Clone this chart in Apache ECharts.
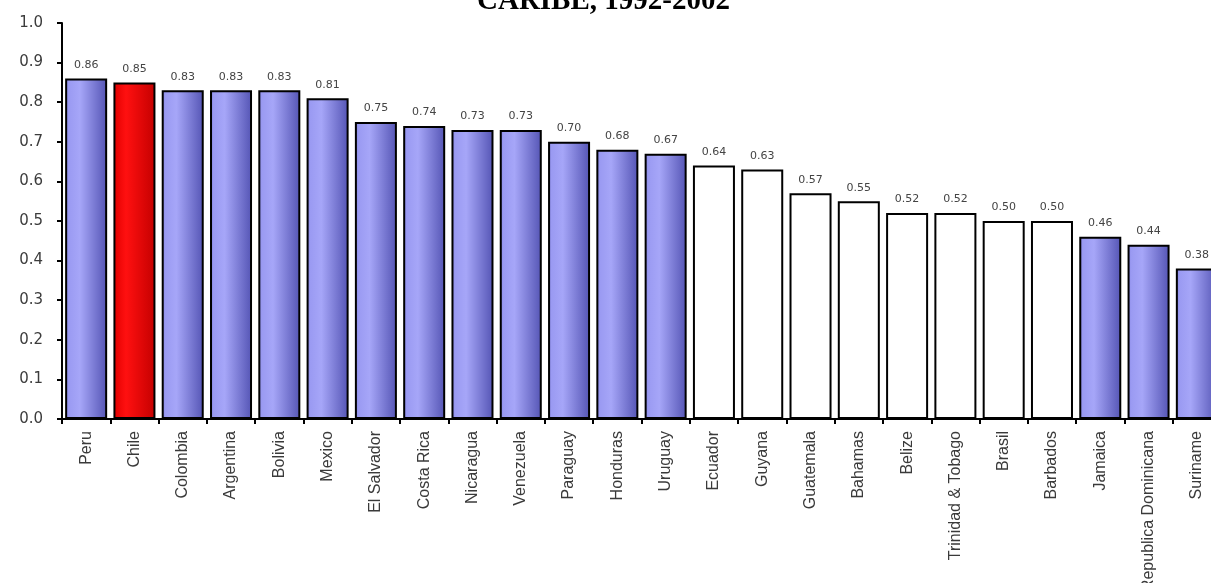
<!DOCTYPE html>
<html>
<head>
<meta charset="utf-8">
<title>CARIBE, 1992-2002</title>
<script src="https://cdn.jsdelivr.net/npm/echarts@6/dist/echarts.min.js"></script>
<style>
  html, body { margin: 0; padding: 0; background: #ffffff; }
  #chart { width: 1211px; height: 583px; }
</style>
</head>
<body>
<div id="chart"></div>
<script>
// Countries, ordered from highest to lowest index
const countries = [
  'Peru', 'Chile', 'Colombia', 'Argentina', 'Bolivia', 'Mexico',
  'El Salvador', 'Costa Rica', 'Nicaragua', 'Venezuela', 'Paraguay',
  'Honduras', 'Uruguay', 'Ecuador', 'Guyana', 'Guatemala', 'Bahamas',
  'Belize', 'Trinidad & Tobago', 'Brasil', 'Barbados', 'Jamaica',
  'Republica Dominicana', 'Suriname'
];
const values = [
  0.86, 0.85, 0.83, 0.83, 0.83, 0.81,
  0.75, 0.74, 0.73, 0.73, 0.70,
  0.68, 0.67, 0.64, 0.63, 0.57, 0.55,
  0.52, 0.52, 0.50, 0.50, 0.46,
  0.44, 0.38
];
// Fill group of each bar: 'blue', 'red' (highlighted) or 'white'
const groups = [
  'blue', 'red', 'blue', 'blue', 'blue', 'blue',
  'blue', 'blue', 'blue', 'blue', 'blue',
  'blue', 'blue', 'white', 'white', 'white', 'white',
  'white', 'white', 'white', 'white', 'blue',
  'blue', 'blue'
];
const yTicks = [0, 0.1, 0.2, 0.3, 0.4, 0.5, 0.6, 0.7, 0.8, 0.9, 1.0];

function hGrad(stops) {
  return new echarts.graphic.LinearGradient(0, 0, 1, 0,
    stops.map(s => ({ offset: s[0], color: s[1] })));
}
const fills = {
  blue: hGrad([[0, '#7c7cdc'], [0.08, '#9a9af2'], [0.35, '#a6a6f8'], [1, '#5454b4']]),
  red: hGrad([[0, '#e00000'], [0.3, '#ff1010'], [1, '#c40000']]),
  white: '#ffffff'
};

const chart = echarts.init(document.getElementById('chart'), null, { renderer: 'canvas' });

chart.setOption({
  animation: false,
  backgroundColor: '#ffffff',
  title: {
    text: 'CARIBE, 1992-2002',
    left: 472,
    top: -18,
    textStyle: {
      fontFamily: 'Liberation Serif',
      fontWeight: 'bold',
      fontSize: 29,
      color: '#000000'
    }
  },
  grid: {
    left: 62,
    top: 23,
    width: 1159,
    bottom: 164,
    containLabel: false,
    outerBoundsMode: 'none'
  },
  xAxis: {
    type: 'category',
    data: countries,
    boundaryGap: true,
    axisLine: { show: true, lineStyle: { color: '#000000', width: 2 } },
    axisTick: { show: true, length: 5, lineStyle: { color: '#000000', width: 2 } },
    axisLabel: {
      interval: 0,
      rotate: 90,
      margin: 12,
      fontFamily: 'Liberation Sans',
      fontSize: 16,
      color: '#3a3a3a'
    },
    splitLine: { show: false }
  },
  yAxis: {
    type: 'value',
    min: yTicks[0],
    max: yTicks[yTicks.length - 1],
    interval: 0.1,
    axisLine: { show: true, lineStyle: { color: '#000000', width: 2 } },
    axisTick: { show: true, length: 5, lineStyle: { color: '#000000', width: 2 } },
    axisLabel: {
      margin: 19,
      fontFamily: 'DejaVu Sans',
      fontSize: 15,
      color: '#3c3c3c',
      formatter: v => v.toFixed(1)
    },
    splitLine: { show: false }
  },
  series: [{
    type: 'bar',
    barCategoryGap: '13%',
    data: values.map((v, i) => ({
      value: v,
      itemStyle: {
        color: fills[groups[i]],
        borderColor: '#000000',
        borderWidth: 2
      }
    })),
    label: {
      show: true,
      position: 'top',
      distance: 8,
      fontFamily: 'DejaVu Sans',
      fontSize: 11,
      color: '#444444',
      formatter: p => p.value.toFixed(2)
    }
  }]
});
</script>
</body>
</html>
